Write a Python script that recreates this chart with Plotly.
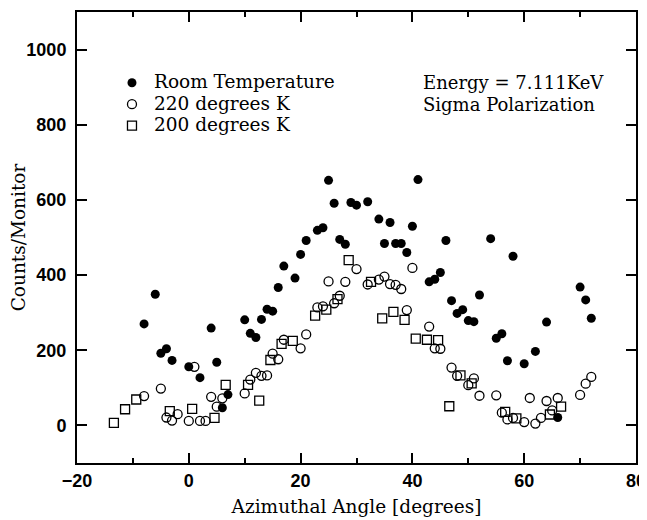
import plotly.graph_objects as go

# Room temperature (filled circles)
room_x = [-8, -6, -5, -4, -3, 0, 2, 4, 5, 6, 7, 10, 11, 12, 13, 14, 15, 16, 17, 19,
          20, 21, 23, 24, 25, 26, 27, 28, 29, 30, 32, 34, 35, 36, 37, 38, 39, 40, 41,
          43, 44, 45, 46, 47, 48, 49, 50, 51, 52, 54, 55, 56, 57, 58, 60, 62, 64, 66,
          70, 71, 72]
room_y = [270, 349, 192, 204, 173, 156, 127, 259, 168, 47, 82, 281, 245, 234, 282, 309,
          304, 367, 424, 392, 455, 492, 519, 526, 652, 591, 495, 482, 593, 586, 595, 549,
          484, 540, 484, 484, 460, 530, 654, 382, 389, 407, 492, 332, 298, 308, 279, 276,
          347, 497, 232, 244, 172, 450, 164, 197, 275, 21, 368, 334, 285]

# 220 K (open circles)
k220_x = [-8, -5, -4, -3, -2, 0, 1, 2, 3, 4, 5, 6, 10, 11, 12, 13, 14, 15, 16, 17,
          20, 21, 23, 24, 25, 26, 27, 28, 30, 32, 34, 35, 36, 37, 38, 39, 40, 43, 44,
          45, 47, 48, 50, 51, 52, 55, 56, 57, 58, 60, 61, 62, 63, 64, 65, 66, 70, 71, 72]
k220_y = [78, 98, 21, 13, 30, 12, 156, 12, 12, 76, 50, 72, 85, 122, 140, 132, 133, 191,
          176, 228, 205, 242, 314, 317, 383, 325, 345, 382, 416, 375, 388, 396, 376, 374,
          363, 307, 419, 263, 205, 204, 154, 132, 107, 125, 79, 80, 34, 16, 20, 9, 73, 5,
          20, 65, 40, 73, 81, 111, 129]

# 200 K (open squares)
k200_x = [-13.4, -11.4, -9.4, -3.4, 0.6, 4.6, 6.6, 10.6, 12.6, 14.6, 16.6, 18.6, 22.6,
          24.6, 26.6, 28.6, 32.6, 34.6, 36.6, 38.6, 40.6, 42.6, 44.6, 46.6, 48.6, 50.6,
          56.6, 58.6, 64.6, 66.6]
k200_y = [7, 43, 69, 38, 44, 20, 108, 108, 66, 174, 217, 225, 292, 308, 336, 440, 382,
          285, 302, 281, 231, 228, 227, 51, 133, 112, 36, 19, 29, 50]

series_names = ["Room Temperature", "220 degrees K", "200 degrees K"]
notes = ["Energy = 7.111KeV", "Sigma Polarization"]

serif = "DejaVu Serif"
txt = 18.5


def big(s):
    return '<span style="font-size:%spx">%s</span>' % (txt, s)


fig = go.Figure()
fig.add_trace(go.Scatter(x=room_x, y=room_y, mode="markers", name=big(series_names[0]),
                         marker=dict(symbol="circle", size=9, color="black")))
fig.add_trace(go.Scatter(x=k220_x, y=k220_y, mode="markers", name=big(series_names[1]),
                         marker=dict(symbol="circle-open", size=9, color="black",
                                     line=dict(width=1.3))))
fig.add_trace(go.Scatter(x=k200_x, y=k200_y, mode="markers", name=big(series_names[2]),
                         marker=dict(symbol="square-open", size=9, color="black",
                                     line=dict(width=1.3))))

for i, note in enumerate(notes):
    fig.add_annotation(x=0.616, y=0.843 - i * 0.0477, xref="paper", yref="paper",
                       xanchor="left", yanchor="middle", showarrow=False, text=note,
                       font=dict(family=serif, size=18, color="black"))

axis_common = dict(showline=True, linewidth=2, linecolor="black", mirror="ticks",
                   ticks="inside", ticklen=10, tickwidth=2, tickcolor="black",
                   showgrid=False, zeroline=False, automargin=False,
                   tickfont=dict(family="Liberation Sans", size=18, color="black",
                                 weight="bold"))

fig.update_xaxes(range=[-20, 80], dtick=20, tick0=0, ticklabeloverflow="allow",
                 minor=dict(ticks="inside", ticklen=5, tickwidth=2, dtick=10,
                            tickcolor="black"),
                 title=dict(text="Azimuthal Angle [degrees]", standoff=10,
                            font=dict(family=serif, size=txt, color="black")),
                 **axis_common)
# non-breaking space pushes the y labels a little further from the frame
fig.update_yaxes(range=[-100, 1100], dtick=200, tick0=0, ticksuffix="\u00a0",
                 title=dict(text="Counts/Monitor", standoff=0,
                            font=dict(family=serif, size=txt, color="black")),
                 **axis_common)

# the page body adds an 8px offset, so the margins are shifted to compensate
fig.update_layout(
    width=647, height=520,
    margin=dict(l=69, r=19, t=4, b=65),
    plot_bgcolor="white", paper_bgcolor="white",
    showlegend=True,
    legend=dict(x=0.059, y=0.878, xanchor="left", yanchor="top",
                bgcolor="rgba(0,0,0,0)", tracegroupgap=0, itemwidth=34,
                font=dict(family=serif, size=14.2, color="black")),
)

fig.write_html("out.html")
